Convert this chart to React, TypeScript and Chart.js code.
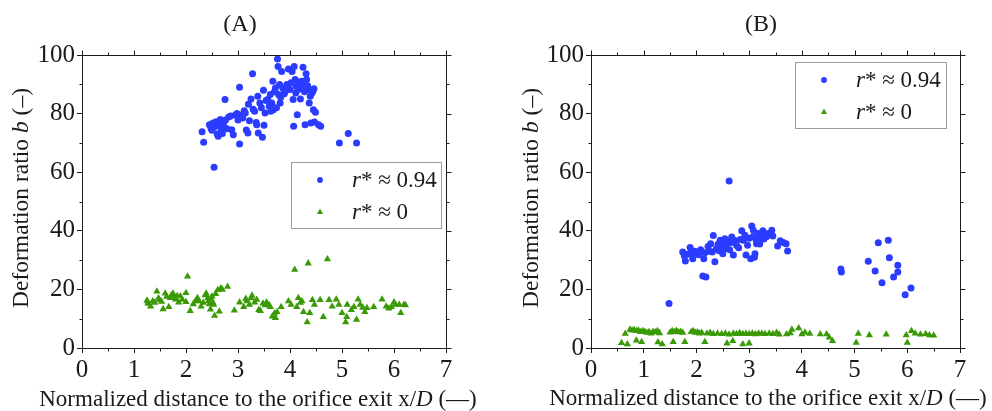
import React, { useEffect, useRef } from 'react';
import { Chart, registerables } from 'chart.js';

Chart.register(...registerables);

// ---------- data ----------
const xTicks = [0, 1, 2, 3, 4, 5, 6, 7];
const yTicks = [0, 20, 40, 60, 80, 100];
const seriesLabels = ['r* ≈ 0.94', 'r* ≈ 0'];

const panelA_high: number[][] = [
  [2.31,73.8],[2.34,70.2],[2.54,61.7],[2.45,76.2],[2.48,75.0],[2.5,74.3],[2.52,76.8],[2.55,75.5],[2.58,77.2],[2.6,73.0],
  [2.62,72.3],[2.63,76.0],[2.66,78.0],[2.68,74.6],[2.7,73.2],[2.72,76.5],[2.75,84.8],[2.76,77.8],[2.79,74.8],[2.82,78.8],
  [2.86,79.2],[2.88,74.5],[2.91,72.8],[2.95,79.5],[2.98,80.0],[3.0,77.8],[3.03,89.0],[3.03,69.6],[3.06,79.5],[3.09,78.5],
  [3.12,81.0],[3.14,80.2],[3.16,74.4],[3.19,73.4],[3.2,83.2],[3.22,77.6],[3.25,85.0],[3.28,93.6],[3.29,81.5],[3.32,80.8],
  [3.35,77.0],[3.36,76.2],[3.38,85.9],[3.39,73.4],[3.42,83.6],[3.45,82.0],[3.47,71.9],[3.49,88.0],[3.5,76.0],[3.52,80.2],
  [3.54,84.5],[3.57,84.8],[3.6,82.5],[3.62,86.5],[3.63,80.8],[3.65,83.6],[3.67,91.0],[3.68,81.3],[3.7,87.5],[3.72,88.7],
  [3.74,82.0],[3.76,98.6],[3.77,96.1],[3.78,86.5],[3.8,89.9],[3.81,83.6],[3.82,85.5],[3.84,94.4],[3.86,88.7],[3.89,86.8],
  [3.91,87.6],[3.94,89.9],[3.96,88.5],[3.97,95.2],[4.0,88.2],[4.02,90.5],[4.04,94.4],[4.06,84.8],[4.07,75.7],[4.08,96.1],
  [4.1,91.6],[4.11,87.0],[4.12,89.3],[4.14,79.6],[4.16,88.2],[4.18,90.8],[4.2,85.0],[4.22,89.0],[4.23,91.0],[4.25,95.8],
  [4.26,89.3],[4.28,87.5],[4.29,76.2],[4.31,93.6],[4.32,91.6],[4.34,89.5],[4.36,88.2],[4.37,83.6],[4.39,85.9],[4.4,76.8],
  [4.42,87.0],[4.44,87.6],[4.45,81.3],[4.46,88.5],[4.47,77.1],[4.49,80.5],[4.55,76.2],[4.59,75.7],[4.95,70.0],[5.12,73.2],
  [5.28,70.0],
];

const panelA_zero: number[][] = [
  [1.25,16.2],[1.27,15.5],[1.28,15.1],[1.32,14.2],[1.36,16.0],[1.4,15.5],[1.44,19.3],[1.47,17.0],[1.49,16.4],[1.53,15.8],
  [1.56,13.3],[1.6,18.6],[1.63,17.5],[1.67,14.0],[1.7,17.1],[1.72,18.0],[1.75,18.6],[1.78,17.2],[1.8,16.6],[1.83,17.8],
  [1.86,15.6],[1.89,17.7],[1.93,16.5],[2.0,18.8],[2.0,15.7],[2.03,24.4],[2.08,12.7],[2.14,15.0],[2.18,16.0],[2.22,17.1],
  [2.25,16.0],[2.29,14.2],[2.33,15.5],[2.37,18.0],[2.39,18.6],[2.42,17.0],[2.43,16.0],[2.45,15.0],[2.47,13.2],[2.48,16.8],
  [2.5,17.6],[2.52,15.5],[2.53,14.8],[2.55,11.0],[2.57,18.5],[2.61,19.8],[2.64,12.5],[2.67,20.4],[2.7,19.9],[2.8,20.9],
  [2.93,12.8],[3.03,15.6],[3.11,14.0],[3.15,16.8],[3.17,16.0],[3.22,14.8],[3.25,17.0],[3.27,17.9],[3.32,15.6],[3.36,16.5],
  [3.4,13.0],[3.43,12.7],[3.48,15.2],[3.52,14.6],[3.55,15.6],[3.6,14.6],[3.62,14.0],[3.66,10.8],[3.7,11.8],[3.72,10.3],
  [3.75,12.3],[3.83,14.0],[3.97,16.0],[4.02,14.8],[4.09,26.7],[4.13,14.0],[4.16,17.1],[4.2,15.5],[4.23,16.0],[4.26,12.3],
  [4.33,8.8],[4.35,28.9],[4.38,12.0],[4.43,16.4],[4.47,14.8],[4.58,16.4],[4.64,10.6],[4.72,30.3],[4.75,16.4],[4.81,14.2],
  [4.89,16.6],[4.94,14.8],[5.0,12.0],[5.07,8.8],[5.09,10.6],[5.1,14.8],[5.18,13.0],[5.23,14.0],[5.28,9.7],[5.31,16.6],
  [5.35,14.8],[5.4,13.8],[5.44,12.3],[5.48,13.7],[5.61,14.0],[5.77,16.6],[5.85,14.2],[5.9,13.5],[5.95,14.0],[6.0,15.6],
  [6.03,14.8],[6.1,14.8],[6.13,12.0],[6.19,14.8],[6.22,14.6],
];

const panelB_high: number[][] = [
  [1.48,15.2],[1.74,32.8],[1.77,31.5],[1.79,29.7],[1.83,32.0],[1.88,34.3],[1.9,32.5],[1.93,30.5],[1.97,33.0],[2.0,32.4],
  [2.04,31.8],[2.08,33.5],[2.12,24.6],[2.14,30.5],[2.16,32.5],[2.18,24.2],[2.22,34.6],[2.25,33.0],[2.27,35.6],[2.3,32.8],
  [2.32,38.4],[2.35,29.4],[2.38,34.0],[2.41,35.4],[2.43,33.2],[2.45,36.8],[2.48,34.5],[2.5,32.2],[2.52,35.8],[2.54,37.3],
  [2.56,34.0],[2.57,35.1],[2.6,36.5],[2.62,57.0],[2.63,33.5],[2.65,36.0],[2.67,37.9],[2.7,31.7],[2.72,36.8],[2.76,35.1],
  [2.8,34.2],[2.83,37.0],[2.86,40.0],[2.89,36.8],[2.92,38.5],[2.94,31.7],[2.97,35.1],[3.0,37.5],[3.03,30.5],[3.05,41.6],
  [3.07,38.0],[3.08,40.2],[3.1,31.0],[3.11,32.2],[3.13,37.0],[3.14,35.6],[3.16,36.5],[3.17,39.1],[3.2,35.5],[3.22,37.0],
  [3.24,38.0],[3.26,40.0],[3.28,37.2],[3.3,38.5],[3.33,38.0],[3.36,39.1],[3.4,38.8],[3.43,40.2],[3.45,38.2],[3.54,34.8],
  [3.59,36.6],[3.65,36.0],[3.7,35.6],[3.73,33.1],[4.74,27.0],[4.75,25.9],[5.26,29.6],[5.39,26.3],[5.45,35.9],[5.52,22.3],
  [5.64,36.8],[5.66,30.8],[5.74,24.2],[5.82,28.2],[5.82,25.9],[5.96,18.2],[6.07,20.5],
];

const panelB_zero: number[][] = [
  [0.65,4.9],[0.74,6.3],[0.78,6.0],[0.82,6.2],[0.86,5.8],[0.9,6.0],[0.94,5.5],[0.98,5.8],[1.02,5.6],[1.06,5.2],
  [1.1,5.5],[1.14,5.0],[1.18,5.6],[1.22,5.4],[1.26,5.8],[1.3,5.1],[1.5,5.3],[1.54,5.8],[1.58,5.5],[1.62,5.9],
  [1.66,5.4],[1.7,5.6],[1.74,5.2],[1.9,5.5],[1.94,5.8],[1.98,5.2],[2.02,5.4],[2.06,5.0],[2.1,5.2],[2.2,5.0],
  [2.26,5.2],[2.32,4.8],[2.4,5.0],[2.48,4.8],[2.55,5.0],[2.62,4.6],[2.7,5.0],[2.76,4.8],[2.82,5.1],[2.88,4.8],
  [2.94,4.9],[3.0,4.8],[3.06,5.0],[3.12,4.7],[3.18,5.0],[3.24,4.9],[3.3,4.8],[3.38,5.0],[3.45,4.8],[3.52,5.2],
  [3.57,4.6],[3.71,4.7],[3.78,5.1],[3.81,6.3],[3.94,6.8],[4.0,4.7],[4.06,5.3],[4.15,4.9],[4.35,4.7],[4.47,4.7],
  [4.52,3.6],[4.58,2.4],[5.07,4.9],[5.28,4.4],[5.6,4.6],[5.98,4.4],[6.08,5.8],[6.15,5.0],[6.25,4.6],[6.35,4.8],
  [6.42,4.4],[6.5,4.3],
  [0.58,1.7],[0.69,1.3],[0.86,2.6],[0.96,2.1],[1.27,2.0],[1.35,1.3],[1.56,2.1],[1.78,2.1],[2.16,2.1],[2.58,1.6],
  [2.69,2.4],[2.88,1.3],[3.0,1.6],[5.03,1.8],[6.0,1.8],
];

// ---------- style ----------
const BLUE = '#2b3cff';
const GREEN = '#3a9a06';
const INK = '#1a1a1a';
const SERIF = '"Liberation Serif", "Times New Roman", serif';

type Seg = { t: string; italic?: boolean };

function segWidth(ctx: CanvasRenderingContext2D, segs: Seg[], size: number) {
  let w = 0;
  for (const s of segs) {
    ctx.font = `${s.italic ? 'italic ' : ''}${size}px ${SERIF}`;
    w += ctx.measureText(s.t).width;
  }
  return w;
}

function drawRich(ctx: CanvasRenderingContext2D, segs: Seg[], x: number, y: number, size: number, align: 'left' | 'center') {
  const total = segWidth(ctx, segs, size);
  let cx = align === 'center' ? x - total / 2 : x;
  ctx.textBaseline = 'middle';
  ctx.textAlign = 'left';
  for (const s of segs) {
    ctx.font = `${s.italic ? 'italic ' : ''}${size}px ${SERIF}`;
    ctx.fillText(s.t, cx, y);
    cx += ctx.measureText(s.t).width;
  }
}

interface PanelCfg {
  id: string;
  title: string;
  titleX: number;
  titleY: number;
  yTitleX: number;
  yTitleY: number;
  xTitleX: number;
  xTitleY: number;
  legendBox: [number, number, number, number];
  plotLeft: number;
  plotRight: number;
  high: number[][];
  zero: number[][];
}

const W = 496;
const H = 411;
const PLOT_TOP = 55;
const PLOT_BOTTOM = 348;

function makePlugin(cfg: PanelCfg) {
  return {
    id: 'decor' + cfg.id,
    afterDraw(chart: any) {
      const ctx: CanvasRenderingContext2D = chart.ctx;
      const { left, right, top, bottom } = chart.chartArea;
      const xs = chart.scales.x;
      const ys = chart.scales.y;
      ctx.save();
      ctx.strokeStyle = INK;
      ctx.lineWidth = 1;
      const L = Math.round(left) + 0.5;
      const R = Math.round(right) + 0.5;
      const T = Math.round(top) + 0.5;
      const B = Math.round(bottom) + 0.5;
      ctx.beginPath();
      ctx.moveTo(L, T); ctx.lineTo(R, T); ctx.lineTo(R, B);
      for (let v = 0; v <= 7.0001; v += 0.5) {
        const px = Math.round(xs.getPixelForValue(v)) + 0.5;
        const major = Math.abs(v - Math.round(v)) < 1e-6;
        const len = major ? 5 : 3;
        ctx.moveTo(px, T); ctx.lineTo(px, T - len);
        if (!major) { ctx.moveTo(px, B); ctx.lineTo(px, B + len); }
      }
      for (let v = 0; v <= 100.0001; v += 10) {
        const py = Math.round(ys.getPixelForValue(v)) + 0.5;
        const major = v % 20 === 0;
        const len = major ? 5 : 3;
        ctx.moveTo(R, py); ctx.lineTo(R + len, py);
        if (!major) { ctx.moveTo(L, py); ctx.lineTo(L - len, py); }
      }
      ctx.stroke();

      // legend
      const [lx, ly, lw, lh] = cfg.legendBox;
      ctx.strokeStyle = '#9c9c9c';
      ctx.strokeRect(lx + 0.5, ly + 0.5, lw, lh);
      const rows = [ly + 18, ly + 50];
      chart.data.datasets.forEach((ds: any, i: number) => {
        const cy = rows[i];
        const mx = lx + 29;
        ctx.fillStyle = ds.backgroundColor;
        ctx.beginPath();
        if (ds.pointStyle === 'triangle') {
          const r = 3.4;
          ctx.moveTo(mx, cy - r);
          ctx.lineTo(mx + r * 0.9, cy + r * 0.6);
          ctx.lineTo(mx - r * 0.9, cy + r * 0.6);
          ctx.closePath();
        } else {
          ctx.arc(mx, cy, 2.9, 0, Math.PI * 2);
        }
        ctx.fill();
        ctx.fillStyle = INK;
        const label: string = ds.label;
        drawRich(ctx, [{ t: label.slice(0, 1), italic: true }, { t: label.slice(1) }], lx + 61, cy + 1, 23, 'left');
      });

      // panel title
      ctx.fillStyle = INK;
      drawRich(ctx, [{ t: cfg.title }], cfg.titleX, cfg.titleY, 24, 'center');

      // x axis title
      drawRich(
        ctx,
        [{ t: 'Normalized distance to the orifice exit x/' }, { t: 'D', italic: true }, { t: ' (\u2014)' }],
        cfg.xTitleX, cfg.xTitleY, 23, 'center'
      );

      // y axis title
      ctx.translate(cfg.yTitleX, cfg.yTitleY);
      ctx.rotate(-Math.PI / 2);
      drawRich(ctx, [{ t: 'Deformation ratio ' }, { t: 'b', italic: true }, { t: ' (\u2013)' }], 0, 0, 23.5, 'center');
      ctx.restore();
    },
  };
}

function toPoints(arr: number[][]) {
  return arr.map(([x, y]) => ({ x, y }));
}

function Panel({ cfg }: { cfg: PanelCfg }) {
  const ref = useRef<HTMLCanvasElement | null>(null);
  useEffect(() => {
    if (!ref.current) return;
    const tickFont = { family: SERIF, size: 25 };
    const chart = new Chart(ref.current, {
      type: 'scatter',
      data: {
        datasets: [
          {
            label: seriesLabels[0],
            data: toPoints(cfg.high),
            backgroundColor: BLUE,
            borderColor: BLUE,
            borderWidth: 0,
            pointStyle: 'circle',
            pointRadius: 3.5,
          },
          {
            label: seriesLabels[1],
            data: toPoints(cfg.zero),
            backgroundColor: GREEN,
            borderColor: GREEN,
            borderWidth: 0,
            pointStyle: 'triangle',
            pointRadius: 4.2,
          },
        ],
      },
      options: {
        responsive: false,
        animation: false,
        events: [],
        layout: { padding: { left: 0, top: PLOT_TOP, right: W - cfg.plotRight, bottom: 0 } },
        plugins: { legend: { display: false }, tooltip: { enabled: false }, title: { display: false } },
        scales: {
          x: {
            type: 'linear',
            min: 0,
            max: 7,
            afterBuildTicks: (s: any) => { s.ticks = xTicks.map((v) => ({ value: v })); },
            ticks: { font: tickFont, color: INK, padding: 2, maxRotation: 0 },
            grid: { drawOnChartArea: false, drawTicks: true, tickLength: 5, color: INK, tickColor: INK },
            border: { display: true, color: INK, width: 1 },
            afterFit: (s: any) => { s.height = H - PLOT_BOTTOM; },
          },
          y: {
            type: 'linear',
            min: 0,
            max: 100,
            afterBuildTicks: (s: any) => { s.ticks = yTicks.map((v) => ({ value: v })); },
            ticks: { font: tickFont, color: INK, padding: 2 },
            grid: { drawOnChartArea: false, drawTicks: true, tickLength: 5, color: INK, tickColor: INK },
            border: { display: true, color: INK, width: 1 },
            afterFit: (s: any) => { s.width = cfg.plotLeft; },
          },
        },
      },
      plugins: [makePlugin(cfg)],
    } as any);
    return () => chart.destroy();
  }, [cfg]);
  return <canvas ref={ref} width={W} height={H} style={{ display: 'block', width: W, height: H }} />;
}

const cfgA: PanelCfg = {
  id: 'A', title: '(A)', titleX: 240, titleY: 25,
  yTitleX: 22, yTitleY: 198, xTitleX: 258, xTitleY: 400,
  legendBox: [291, 162, 150, 66], plotLeft: 82, plotRight: 446,
  high: panelA_high, zero: panelA_zero,
};

const cfgB: PanelCfg = {
  id: 'B', title: '(B)', titleX: 265, titleY: 25,
  yTitleX: 36, yTitleY: 198, xTitleX: 272, xTitleY: 399,
  legendBox: [299, 62, 151, 66], plotLeft: 95, plotRight: 464,
  high: panelB_high, zero: panelB_zero,
};

export default function App() {
  useEffect(() => {
    document.body.style.margin = '0';
    document.body.style.background = '#ffffff';
  }, []);
  return (
    <div style={{ display: 'flex', width: 992, height: 411, overflow: 'hidden', background: '#fff' }}>
      <Panel cfg={cfgA} />
      <Panel cfg={cfgB} />
    </div>
  );
}
